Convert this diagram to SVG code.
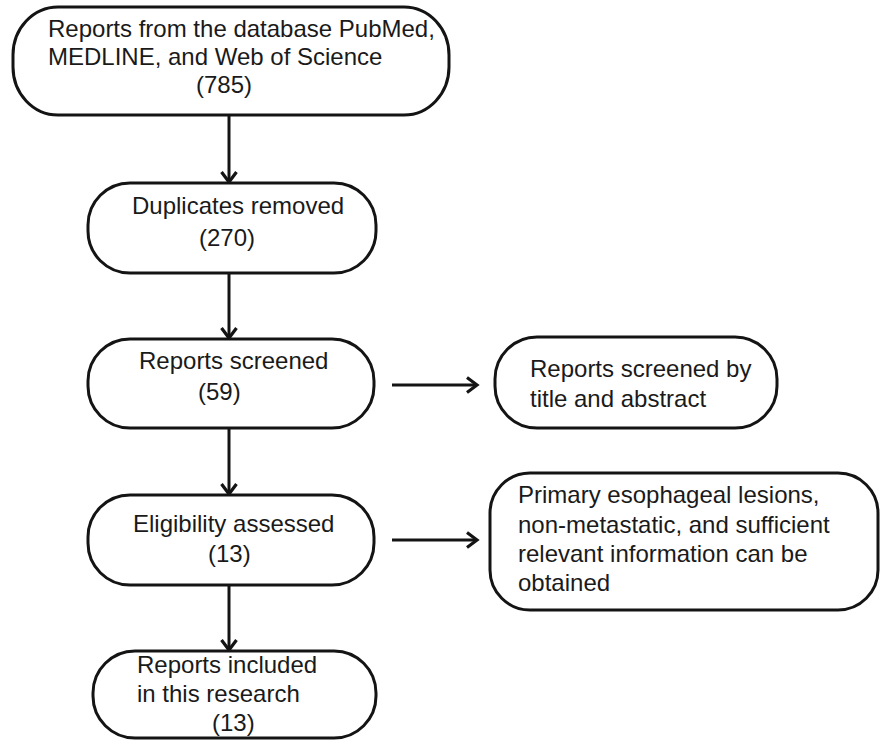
<svg xmlns="http://www.w3.org/2000/svg" width="881" height="740" viewBox="0 0 881 740">
<defs>
<style>
.box{fill:#fff;stroke:#141414;stroke-width:3}
.t{font-family:"Liberation Sans",Arial,sans-serif;font-size:24px;fill:#1a1a1a}
.c{stroke:#141414;stroke-width:3;fill:none}
</style>
<marker id="ah" markerUnits="userSpaceOnUse" markerWidth="20" markerHeight="20" refX="11" refY="10" orient="auto">
<path d="M1,2.5 L11,10 L1,17.5" fill="none" stroke="#141414" stroke-width="3.2"/>
</marker>
</defs>
<rect width="881" height="740" fill="#fff"/>
<g id="connectors">
<line class="c" x1="229" y1="116" x2="229" y2="182" marker-end="url(#ah)"/>
<line class="c" x1="229" y1="274" x2="229" y2="338" marker-end="url(#ah)"/>
<line class="c" x1="229" y1="429" x2="229" y2="494" marker-end="url(#ah)"/>
<line class="c" x1="229" y1="586" x2="229" y2="650" marker-end="url(#ah)"/>
<line class="c" x1="392" y1="385" x2="477" y2="385" marker-end="url(#ah)"/>
<line class="c" x1="392" y1="540" x2="477" y2="540" marker-end="url(#ah)"/>
</g>
<g id="n1">
<rect class="box" x="13" y="7" width="436" height="108" rx="45" ry="48"/>
<text class="t" x="48" y="37">Reports from the database PubMed,</text>
<text class="t" x="48" y="65">MEDLINE, and Web of Science</text>
<text class="t" x="196" y="93">(785)</text>
</g>
<g id="n2">
<rect class="box" x="88" y="183" width="288" height="90" rx="42" ry="42"/>
<text class="t" x="132" y="214">Duplicates removed</text>
<text class="t" x="199" y="246">(270)</text>
</g>
<g id="n3">
<rect class="box" x="88" y="339" width="286" height="89" rx="42" ry="42"/>
<text class="t" x="139" y="369">Reports screened</text>
<text class="t" x="198" y="400">(59)</text>
</g>
<g id="n4">
<rect class="box" x="495" y="337" width="282" height="91" rx="42" ry="42"/>
<text class="t" x="530" y="377">Reports screened by</text>
<text class="t" x="530" y="407">title and abstract</text>
</g>
<g id="n5">
<rect class="box" x="88" y="495" width="286" height="90" rx="42" ry="42"/>
<text class="t" x="133" y="532">Eligibility assessed</text>
<text class="t" x="208" y="562">(13)</text>
</g>
<g id="n6">
<rect class="box" x="490" y="473" width="388" height="137" rx="40" ry="40"/>
<text class="t" x="518" y="503">Primary esophageal lesions,</text>
<text class="t" x="518" y="533">non-metastatic, and sufficient</text>
<text class="t" x="518" y="562">relevant information can be</text>
<text class="t" x="518" y="591">obtained</text>
</g>
<g id="n7">
<rect class="box" x="93" y="651" width="283" height="87" rx="42" ry="42"/>
<text class="t" x="137" y="673">Reports included</text>
<text class="t" x="137" y="702">in this research</text>
<text class="t" x="212" y="731">(13)</text>
</g>
</svg>
